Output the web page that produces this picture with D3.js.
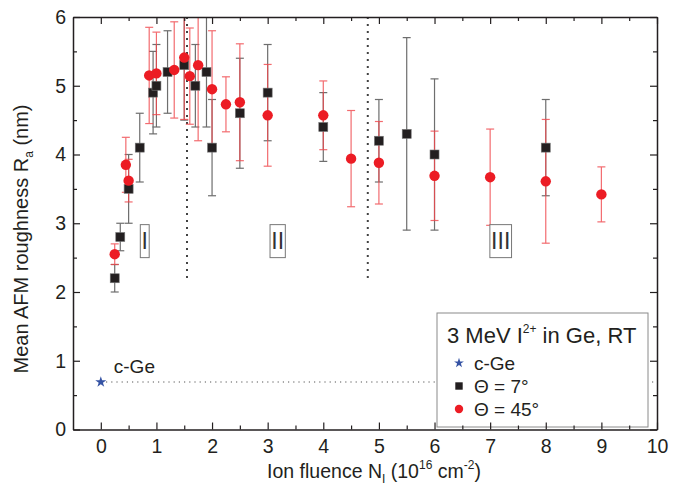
<!DOCTYPE html>
<html>
<head>
<meta charset="utf-8">
<script src="https://cdn.jsdelivr.net/npm/d3@7"></script>
<style>
  body { margin: 0; background: #fff; }
  svg text { font-family: "Liberation Sans", Arial, Helvetica, sans-serif; fill: #231f20; }
</style>
</head>
<body>
<svg id="chart" width="685" height="491"></svg>
<script>
// Mean AFM roughness of Ge after 3 MeV I2+ irradiation, vs. ion fluence (1e16 cm^-2)
const fluence7  = [0.25, 0.35, 0.5, 0.7, 0.94, 1.0, 1.2, 1.5, 1.7, 1.9, 2.0, 2.5, 3.0, 4.0, 5.0, 5.5, 6.0, 8.0];
const ra7       = [2.2, 2.8, 3.5, 4.1, 4.9, 5.0, 5.2, 5.3, 5.0, 5.2, 4.1, 4.6, 4.9, 4.4, 4.2, 4.3, 4.0, 4.1];
const err7      = [0.2, 0.2, 0.5, 0.5, 0.6, 0.6, 0.6, 0.8, 0.6, 0.8, 0.7, 0.8, 0.7, 0.5, 0.6, 1.4, 1.1, 0.7];

const fluence45 = [0.25, 0.45, 0.5, 0.87, 1.0, 1.32, 1.5, 1.6, 1.75, 2.0, 2.25, 2.5, 3.0, 4.0, 4.5, 5.0, 6.0, 7.0, 8.0, 9.0];
const ra45      = [2.55, 3.85, 3.62, 5.15, 5.18, 5.23, 5.41, 5.14, 5.30, 4.95, 4.73, 4.76, 4.57, 4.57, 3.94, 3.88, 3.69, 3.67, 3.61, 3.42];
const err45     = [0.15, 0.4, 0.31, 0.7, 0.6, 0.7, 0.9, 0.7, 1.1, 0.85, 0.4, 0.85, 0.74, 0.5, 0.7, 0.6, 0.65, 0.7, 0.9, 0.4];

// unirradiated reference (crystalline Ge)
const cGeFluence = [0];
const cGeRa      = [0.69];

// regimes I / II / III and their boundaries
const regionLabels   = ["I", "II", "III"];
const regionFluence  = [0.79, 3.18, 7.19];
const regionRa       = [2.74, 2.74, 2.74];
const boundaryFluence = [1.55, 4.8];
const boundaryRange   = [2.2, 6];

const xTickValues = [0, 1, 2, 3, 4, 5, 6, 7, 8, 9, 10];
const xTickLabels = ["0", "1", "2", "3", "4", "5", "6", "7", "8", "9", "10"];
const xMinorTicks = [0.5, 1.5, 2.5, 3.5, 4.5, 5.5, 6.5, 7.5, 8.5, 9.5];
const yTickValues = [0, 1, 2, 3, 4, 5, 6];
const yTickLabels = ["0", "1", "2", "3", "4", "5", "6"];
const yMinorTicks = [0.5, 1.5, 2.5, 3.5, 4.5, 5.5];

const legendTitle = "3 MeV I";
const legendItems = ["c-Ge", "\u0398 = 7\u00b0", "\u0398 = 45\u00b0"];

const RED = "#ec1c24", RED_BAR = "#f0474c", BLACK = "#231f20", BLUE = "#3553a4";

const svg = d3.select("#chart");
const plotLeft = 73, plotRight = 657, plotTop = 17, plotBottom = 429.5;

const x = d3.scaleLinear().domain([-0.5, 10]).range([plotLeft, plotRight]);
const y = d3.scaleLinear().domain([0, 6]).range([plotBottom, plotTop]);

svg.append("defs").append("clipPath").attr("id", "plotClip")
  .append("rect").attr("x", plotLeft).attr("y", plotTop)
  .attr("width", plotRight - plotLeft).attr("height", plotBottom - plotTop);

const plot = svg.append("g").attr("clip-path", "url(#plotClip)");

// c-Ge reference level
plot.append("line")
  .attr("x1", x(cGeFluence[0])).attr("x2", x(10))
  .attr("y1", y(cGeRa[0])).attr("y2", y(cGeRa[0]))
  .attr("stroke", "#555").attr("stroke-width", 1.1)
  .attr("stroke-dasharray", "1.2,4");

// regime boundaries
plot.selectAll("line.boundary").data(boundaryFluence).join("line")
  .attr("class", "boundary")
  .attr("x1", d => x(d)).attr("x2", d => x(d))
  .attr("y1", y(boundaryRange[1])).attr("y2", y(boundaryRange[0]))
  .attr("stroke", "#444").attr("stroke-width", 2)
  .attr("stroke-dasharray", "2,5");

// regime labels in boxes
regionLabels.forEach((lab, i) => {
  const g = svg.append("g");
  const t = g.append("text")
    .attr("x", x(regionFluence[i])).attr("y", y(regionRa[i]) + 8.3)
    .attr("text-anchor", "middle").attr("font-size", 23)
    .style("fill", "#333").text(lab);
  const w = t.node().getComputedTextLength() + 2.5;
  g.insert("rect", "text")
    .attr("x", x(regionFluence[i]) - w / 2).attr("y", y(regionRa[i]) - 16.5)
    .attr("width", w).attr("height", 33)
    .attr("fill", "#fff").attr("stroke", "#777").attr("stroke-width", 1);
});

// error bars
function errorBars(xs, ys, es, color, opacity) {
  const g = plot.append("g").attr("stroke", color).attr("stroke-width", 1.2).attr("opacity", opacity);
  xs.forEach((f, i) => {
    const cx = x(f), y1 = y(ys[i] + es[i]), y2 = y(ys[i] - es[i]);
    g.append("line").attr("x1", cx).attr("x2", cx).attr("y1", y1).attr("y2", y2);
    g.append("line").attr("x1", cx - 4).attr("x2", cx + 4).attr("y1", y1).attr("y2", y1);
    g.append("line").attr("x1", cx - 4).attr("x2", cx + 4).attr("y1", y2).attr("y2", y2);
  });
}
errorBars(fluence7, ra7, err7, "#555", 0.85);
errorBars(fluence45, ra45, err45, RED_BAR, 0.8);

// Θ = 7° squares
const sq = 9;
plot.selectAll("rect.t7").data(fluence7).join("rect")
  .attr("class", "t7")
  .attr("x", d => x(d) - sq / 2).attr("y", (d, i) => y(ra7[i]) - sq / 2)
  .attr("width", sq).attr("height", sq)
  .attr("fill", BLACK).attr("stroke", "#777").attr("stroke-width", 0.6);

// Θ = 45° circles
plot.selectAll("circle.t45").data(fluence45).join("circle")
  .attr("class", "t45")
  .attr("cx", d => x(d)).attr("cy", (d, i) => y(ra45[i])).attr("r", 5.2)
  .attr("fill", RED);

// c-Ge star
svg.selectAll("path.cge").data(cGeFluence).join("path")
  .attr("class", "cge")
  .attr("transform", (d, i) => `translate(${x(d)},${y(cGeRa[i])})`)
  .attr("d", d3.symbol(d3.symbolStar, 38)())
  .attr("fill", BLUE);
svg.append("text")
  .attr("x", x(cGeFluence[0]) + 13).attr("y", y(cGeRa[0]) - 9)
  .attr("font-size", 19).text("c-Ge");

// legend
const lg = svg.append("g");
lg.append("rect").attr("x", 437).attr("y", 313).attr("width", 211).attr("height", 114)
  .attr("fill", "#fff").attr("stroke", "#8a8a8a").attr("stroke-width", 1);
const lt = lg.append("text").attr("x", 447).attr("y", 343).attr("font-size", 22);
lt.append("tspan").text(legendTitle);
lt.append("tspan").attr("font-size", 12).attr("dy", -10).text("2+");
lt.append("tspan").attr("dy", 10).text(" in Ge, RT");
const rowY = [363, 386, 409];
lg.append("path").attr("transform", `translate(459,${rowY[0]})`)
  .attr("d", d3.symbol(d3.symbolStar, 30)()).attr("fill", BLUE);
lg.append("rect").attr("x", 459 - 3.7).attr("y", rowY[1] - 3.7).attr("width", 7.4).attr("height", 7.4).attr("fill", BLACK);
lg.append("circle").attr("cx", 459).attr("cy", rowY[2]).attr("r", 4.2).attr("fill", RED);
lg.selectAll("text.item").data(legendItems).join("text")
  .attr("class", "item")
  .attr("x", 474).attr("y", (d, i) => rowY[i] + 6.5)
  .attr("font-size", 19).text(d => d);

// axes (ticks point inward)
function styleAxis(g, fs) {
  g.select(".domain").attr("stroke", BLACK).attr("stroke-width", 1.5);
  g.selectAll(".tick line").attr("stroke", BLACK).attr("stroke-width", 1.2);
  g.selectAll(".tick text").attr("font-size", fs).attr("font-family", null).style("fill", BLACK);
}
const ax = svg.append("g");
ax.append("g").attr("transform", `translate(0,${plotBottom})`)
  .call(d3.axisBottom(x).tickValues(xTickValues).tickFormat((d, i) => xTickLabels[i])
    .tickSize(-7).tickSizeOuter(0).tickPadding(10))
  .call(g => styleAxis(g, 19.5));
ax.append("g").attr("transform", `translate(0,${plotBottom})`)
  .call(d3.axisBottom(x).tickValues(xMinorTicks).tickFormat("").tickSize(-4).tickSizeOuter(0))
  .call(g => { styleAxis(g, 19.5); g.select(".domain").remove(); });
ax.append("g").attr("transform", `translate(0,${plotTop})`)
  .call(d3.axisTop(x).tickValues(xTickValues).tickFormat("").tickSize(-7).tickSizeOuter(0))
  .call(g => styleAxis(g, 19.5));
ax.append("g").attr("transform", `translate(0,${plotTop})`)
  .call(d3.axisTop(x).tickValues(xMinorTicks).tickFormat("").tickSize(-4).tickSizeOuter(0))
  .call(g => { styleAxis(g, 19.5); g.select(".domain").remove(); });
ax.append("g").attr("transform", `translate(${plotLeft},0)`)
  .call(d3.axisLeft(y).tickValues(yTickValues).tickFormat((d, i) => yTickLabels[i])
    .tickSize(-7).tickSizeOuter(0).tickPadding(7))
  .call(g => styleAxis(g, 19.5));
ax.append("g").attr("transform", `translate(${plotLeft},0)`)
  .call(d3.axisLeft(y).tickValues(yMinorTicks).tickFormat("").tickSize(-4).tickSizeOuter(0))
  .call(g => { styleAxis(g, 19.5); g.select(".domain").remove(); });
ax.append("g").attr("transform", `translate(${plotRight},0)`)
  .call(d3.axisRight(y).tickValues(yTickValues).tickFormat("").tickSize(-7).tickSizeOuter(0))
  .call(g => styleAxis(g, 19.5));
ax.append("g").attr("transform", `translate(${plotRight},0)`)
  .call(d3.axisRight(y).tickValues(yMinorTicks).tickFormat("").tickSize(-4).tickSizeOuter(0))
  .call(g => { styleAxis(g, 19.5); g.select(".domain").remove(); });

// axis titles
const xt = svg.append("text").attr("x", 374).attr("y", 478)
  .attr("text-anchor", "middle").attr("font-size", 19.5);
xt.append("tspan").text("Ion fluence N");
xt.append("tspan").attr("font-size", 12).attr("dy", 5).text("I");
xt.append("tspan").attr("dy", -5).text(" (10");
xt.append("tspan").attr("font-size", 12).attr("dy", -9).text("16");
xt.append("tspan").attr("dy", 9).text(" cm");
xt.append("tspan").attr("font-size", 12).attr("dy", -9).text("-2");
xt.append("tspan").attr("dy", 9).text(")");

const yt = svg.append("text")
  .attr("transform", "translate(28,239) rotate(-90)")
  .attr("text-anchor", "middle").attr("font-size", 20);
yt.append("tspan").text("Mean AFM roughness R");
yt.append("tspan").attr("font-size", 12).attr("dy", 5).text("a");
yt.append("tspan").attr("dy", -5).text(" (nm)");
</script>
</body>
</html>
